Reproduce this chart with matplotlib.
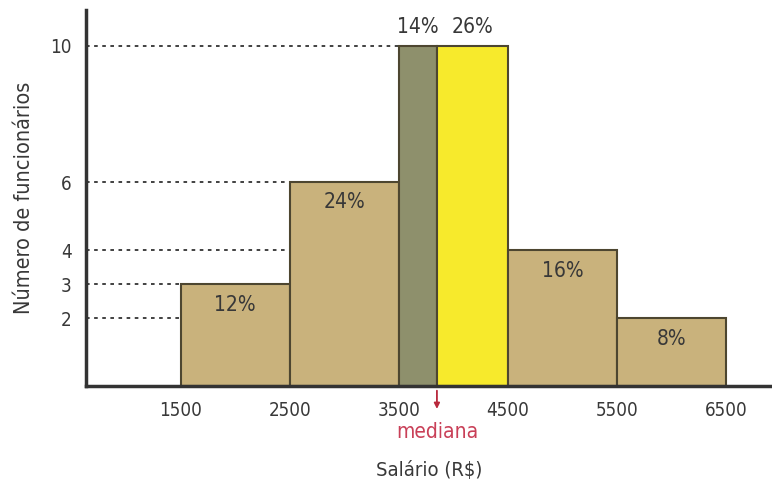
import matplotlib.pyplot as plt
from matplotlib import font_manager

# salary classes (R$) and number of employees in each
edges = [1500, 2500, 3500, 4500, 5500, 6500]
counts = [3, 6, 10, 4, 2]
percents = ['12%', '24%', '40%', '16%', '8%']
median = 3850
median_split = ['14%', '26%']
yticks = [2, 3, 4, 6, 10]

names = {f.name for f in font_manager.fontManager.ttflist}
family = 'Liberation Sans Narrow' if 'Liberation Sans Narrow' in names else 'DejaVu Sans'
plt.rcParams['font.family'] = family
plt.rcParams['font.stretch'] = 'condensed'

tan = '#c9b27c'
olive = '#8e906c'
yellow = '#f7ea2c'
edge = '#4d4630'
text_c = '#383838'

fig = plt.figure(figsize=(7.72, 4.87), dpi=100)
ax = fig.add_axes([0.111, 0.207, 0.889, 0.772])

for i, h in enumerate(counts):
    left, right = edges[i], edges[i + 1]
    if left < median < right:
        ax.bar(left, h, width=median - left, align='edge', color=olive,
               edgecolor=edge, linewidth=1.5, zorder=2)
        ax.bar(median, h, width=right - median, align='edge', color=yellow,
               edgecolor=edge, linewidth=1.5, zorder=2)
        ax.text((left + median) / 2, h + 0.25, median_split[0], ha='center',
                va='bottom', fontsize=15, color=text_c)
        ax.text((median + right) / 2, h + 0.25, median_split[1], ha='center',
                va='bottom', fontsize=15, color=text_c)
    else:
        ax.bar(left, h, width=right - left, align='edge', color=tan,
               edgecolor=edge, linewidth=1.5, zorder=2)
        ax.text((left + right) / 2, h - 0.6, percents[i], ha='center',
                va='center', fontsize=15, color=text_c)

# dotted guides from the y axis to the first bar reaching each level
xmin = 630
for y in yticks:
    first = next(edges[i] for i, h in enumerate(counts) if h >= y)
    ax.plot([xmin, first], [y, y], color='#333333', linestyle=(0, (2, 2.5)),
            linewidth=1.3, zorder=1)

ax.set_xlim(xmin, 6922)
ax.set_ylim(0, 11.05)
ax.set_xticks(edges)
ax.set_xticklabels([str(e) for e in edges])
ax.set_yticks(yticks)
ax.tick_params(length=0, labelsize=13.5, labelcolor=text_c)
ax.tick_params(axis='x', pad=11)
ax.tick_params(axis='y', pad=10)

for side in ['top', 'right']:
    ax.spines[side].set_visible(False)
for side in ['left', 'bottom']:
    ax.spines[side].set_linewidth(2.5)
    ax.spines[side].set_color('#333333')

# median marker
ax.annotate('', xy=(median, -0.75), xytext=(median, -0.05),
            arrowprops=dict(arrowstyle='-|>', color='#b8283c', lw=1.3,
                            mutation_scale=8),
            annotation_clip=False)
ax.text(median, -1.35, 'mediana', ha='center', va='center', fontsize=15,
        color='#c94058', clip_on=False)

ax.set_xlabel('Salário (R$)', fontsize=14.5, color=text_c)
ax.xaxis.set_label_coords(0.5, -0.2)
ax.set_ylabel('Número de funcionários', fontsize=15.5, color=text_c)
ax.yaxis.set_label_coords(-0.09, 0.5)
ax.yaxis.label.set_verticalalignment('center')

fig.savefig('out.png', dpi=100)
